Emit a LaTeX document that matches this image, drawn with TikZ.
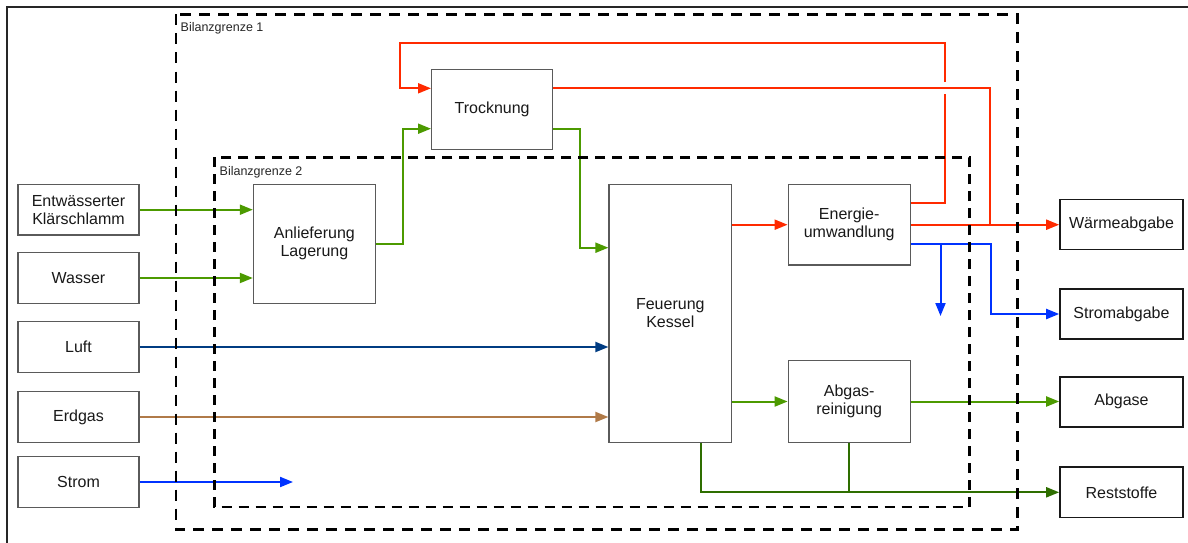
\documentclass[tikz,border=0pt]{standalone}
\usepackage{fontspec}
\setmainfont{Liberation Sans}
\usetikzlibrary{arrows.meta}
\definecolor{cgreen}{HTML}{4C9A00}
\definecolor{cdkgreen}{HTML}{2E6E00}
\definecolor{cred}{HTML}{FF2A00}
\definecolor{cnavy}{HTML}{003C82}
\definecolor{cbrown}{HTML}{B07A48}
\definecolor{cblue}{HTML}{0033FF}
\definecolor{boxgray}{HTML}{5A5A5A}
\tikzset{
  box/.style={draw=boxgray, line width=1.2pt, fill=white, align=center, inner sep=0pt,
    text=black!90, font=\fontsize{16}{18}\selectfont},
  outbox/.style={box, draw=black!90, line width=1.6pt},
  flowline/.style={line width=2pt},
  flow/.style={flowline, -{Triangle[length=13pt,width=10pt]}},
  bound/.style={draw=black, line width=2.8pt, dash pattern=on 11pt off 8pt},
  bound2/.style={draw=black, line width=2.4pt, dash pattern=on 10pt off 7pt},
  bglabel/.style={anchor=base west, inner sep=0pt, text=black!85, font=\fontsize{12.5}{14}\selectfont}
}
\begin{document}
\begin{tikzpicture}[x=1pt,y=-1pt]
\useasboundingbox (0,0) rectangle (1188,543);
% outer frame
\draw[line width=2pt, black!85] (6.5,543) -- (6.5,7.5) -- (1188,7.5);

% input boxes
\node[box, minimum width=121, minimum height=50.5] (kl) at (78.5,209.7) {Entwässerter\\Klärschlamm};
\node[box, minimum width=121, minimum height=50.5] (wa) at (78.5,278) {Wasser};
\node[box, minimum width=121, minimum height=50.5] (lu) at (78.5,347) {Luft};
\node[box, minimum width=121, minimum height=50.5] (er) at (78.5,417) {Erdgas};
\node[box, minimum width=121, minimum height=50.5] (st) at (78.5,482) {Strom};

% process boxes
\node[box, minimum width=122, minimum height=119] (anl) at (314.4,243.8) {Anlieferung\\Lagerung};
\node[box, minimum width=121, minimum height=80] (troc) at (492.1,109.3) {Trocknung};
\node[box, minimum width=122.6, minimum height=258] (feu) at (670.3,313.3) {Feuerung\\Kessel};
\node[box, minimum width=122, minimum height=80.7] (en) at (849.2,224.7) {Energie-\\umwandlung};
\node[box, minimum width=122, minimum height=81.6] (abg) at (849.2,401.5) {Abgas-\\reinigung};

% output boxes
\node[outbox, minimum width=123, minimum height=50] (waerme) at (1121.5,224.3) {Wärmeabgabe};
\node[outbox, minimum width=123, minimum height=50.5] (sab) at (1121.5,314) {Stromabgabe};
\node[outbox, minimum width=123, minimum height=50] (abgase) at (1121.5,401.7) {Abgase};
\node[outbox, minimum width=123, minimum height=50.5] (rest) at (1121.5,492.3) {Reststoffe};

% free coordinates
\coordinate (sEnd) at (293,482);
\coordinate (jumpLo) at (944.5,94);
\coordinate (jumpHi) at (944.5,82);
\coordinate (loopTL) at (399.5,42.7);
\coordinate (wJoin) at (989.5,224.3);
\coordinate (bCorner) at (990.5,244);
\coordinate (bBranch) at (940.5,244);
\coordinate (bEnd) at (940.5,316);

% input flows
\draw[flow, cgreen] (kl.east) -- (kl.east -| anl.west);
\draw[flow, cgreen] (wa.east) -- (wa.east -| anl.west);
\draw[flow, cnavy] (lu.east) -- (lu.east -| feu.west);
\draw[flow, cbrown] (er.east) -- (er.east -| feu.west);
\draw[flow, cblue] (st.east) -- (sEnd);

% sludge path
\draw[flow, cgreen] (anl.east) -- ++(26.5,0) |- ([yshift=-19.4pt]troc.west);
\draw[flow, cgreen] ([yshift=-19.4pt]troc.east) -- ++(27.2,0) |- ([yshift=65.6pt]feu.west);

% heat
\draw[flow, cred] (feu.east |- en.west) -- (en.west);
\draw[flowline, cred] ([yshift=21.7pt]en.east) -| (jumpLo);
\draw[flow, cred] (jumpHi) |- (loopTL) |- ([yshift=21pt]troc.west);
\draw[flowline, cred] ([yshift=21pt]troc.east) -| (wJoin);
\draw[flow, cred] (en.east) -- (en.east -| waerme.west);

% electricity
\draw[flow, cblue] ([yshift=-19.3pt]en.east) -- (bCorner) |- (sab.west);
\draw[flow, cblue] (bBranch) -- (bEnd);

% flue gas
\draw[flow, cgreen] (feu.east |- abg.west) -- (abg.west);
\draw[flow, cgreen] (abg.east) -- (abg.east -| abgase.west);

% residues
\draw[flow, cdkgreen] ([xshift=30.3pt]feu.south) |- (rest.west);
\draw[flowline, cdkgreen] ([xshift=-0.5pt]abg.south) -- ([xshift=-0.5pt]abg.south |- rest.west);

% boundaries
\draw[bound] (176,14.5) rectangle (1017.5,529.3);
\draw[bound2] (214.3,157.3) rectangle (969.6,507);
\node[bglabel] (bg1) at (180.5,32) {Bilanzgrenze 1};
\node[bglabel] (bg2) at (219.5,175.7) {Bilanzgrenze 2};
\end{tikzpicture}
\end{document}
